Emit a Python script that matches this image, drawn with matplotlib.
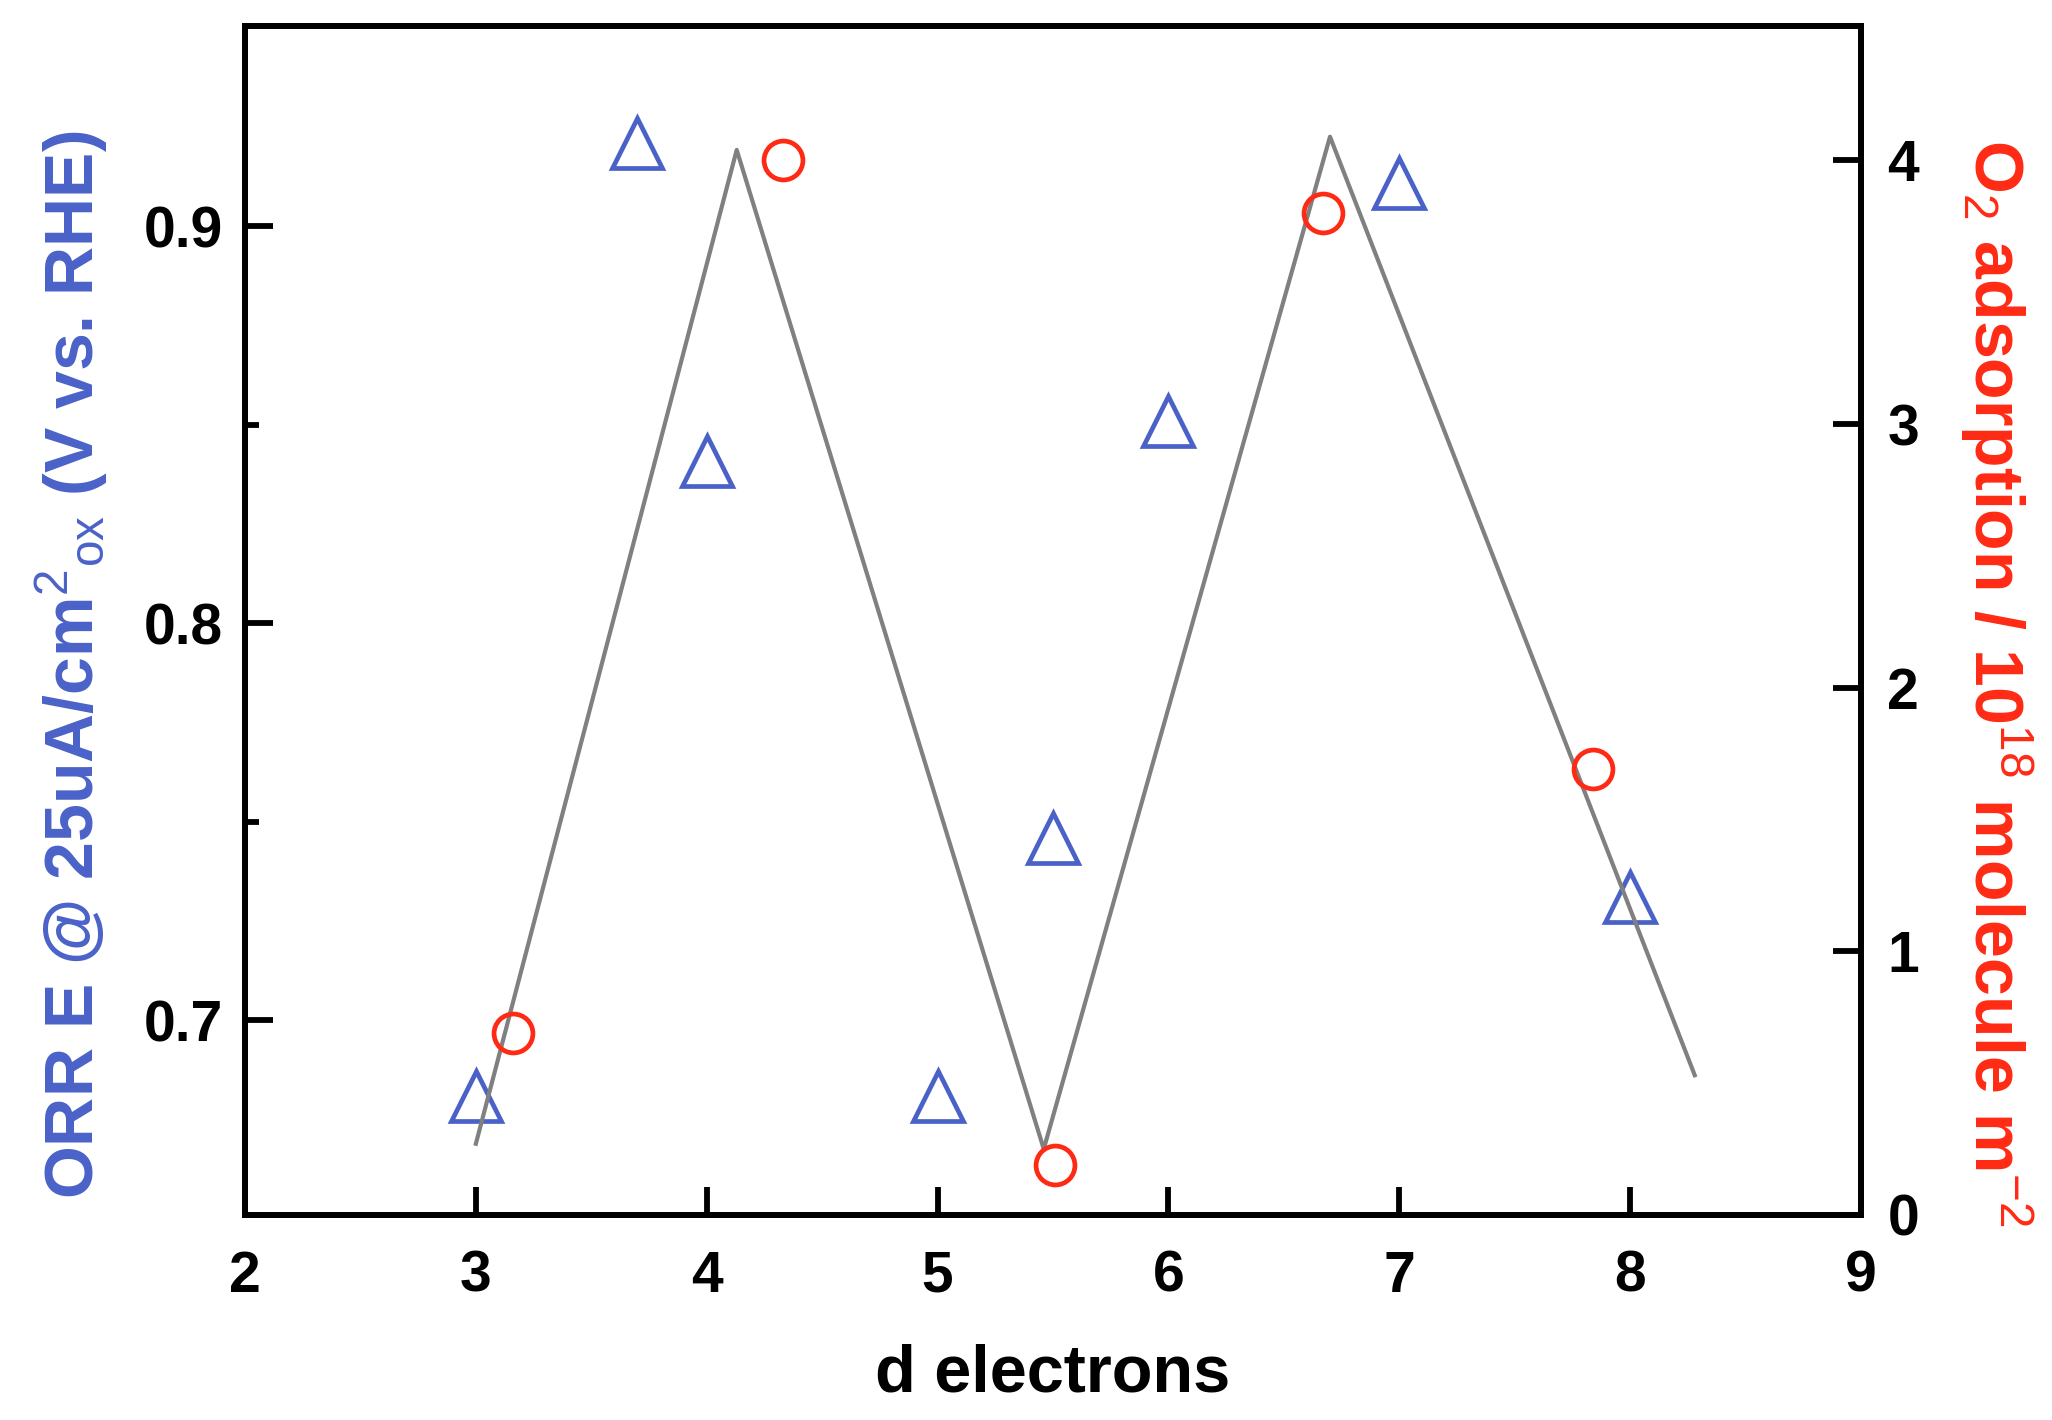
import matplotlib
matplotlib.use("Agg")
import matplotlib.pyplot as plt

# values
tri_x = [3, 3.7, 4, 5, 5.5, 6, 7, 8]
tri_y = [0.681, 0.921, 0.841, 0.681, 0.746, 0.851, 0.911, 0.731]   # ORR E (left axis)

circ_x = [3.16, 4.33, 5.51, 6.67, 7.84]
circ_y = [0.69, 4.0, 0.19, 3.80, 1.69]   # O2 adsorption (right axis)

line_x = [3.0, 4.13, 5.46, 6.70, 8.28]
line_y = [0.27, 4.04, 0.25, 4.09, 0.53]

blue = '#4a62c8'
red = '#ff2a14'

plt.rcParams['font.family'] = ['Liberation Sans', 'DejaVu Sans']
plt.rcParams['mathtext.fontset'] = 'custom'
plt.rcParams['mathtext.rm'] = 'Liberation Sans'
plt.rcParams['mathtext.default'] = 'rm'

fig = plt.figure(figsize=(20.52, 14.2), dpi=100)
ax = fig.add_axes([0.1194, 0.1444, 0.7875, 0.8373])
ax2 = ax.twinx()

ax2.plot(line_x, line_y, color='#808080', lw=3, zorder=1)
ax.plot(tri_x, tri_y, ls='none', marker='^', ms=36, mfc='none', mec=blue, mew=3.4, zorder=3)
ax2.plot(circ_x, circ_y, ls='none', marker='o', ms=28, mfc='none', mec=red, mew=3.4, zorder=3)

ax.set_xlim(2, 9)
ax.set_ylim(0.651, 0.9505)
ax2.set_ylim(0, 4.51)

ax.set_xticks([2, 3, 4, 5, 6, 7, 8, 9])
ax.set_yticks([0.7, 0.8, 0.9])
ax.set_yticks([0.75, 0.85], minor=True)
ax2.set_yticks([0, 1, 2, 3, 4])
ax.set_yticklabels(['0.7', '0.8', '0.9'])

for a in (ax, ax2):
    for s in a.spines.values():
        s.set_linewidth(4.2)
ax.tick_params(axis='x', which='major', direction='in', length=20, width=4.2, pad=25, labelsize=41)
ax.tick_params(axis='y', which='major', direction='in', length=20, width=4.2, pad=16, labelsize=41)
ax.tick_params(axis='y', which='minor', direction='in', length=10, width=4.2)
ax.tick_params(top=False, right=False)
ax2.tick_params(axis='y', which='major', direction='in', length=20, width=4.2, pad=19, labelsize=41)
for lab in ax.get_xticklabels() + ax.get_yticklabels() + ax2.get_yticklabels():
    lab.set_fontweight('bold')

fig.text(0.513, 0.032, 'd electrons', ha='center', va='center', fontsize=48, weight='bold')
fig.text(0.035, 0.532, 'ORR E @ 25uA/cm$^{2}$$_{ox}$ (V vs. RHE)', rotation=90,
         ha='center', va='center', fontsize=49, weight='bold', color=blue)
fig.text(0.973, 0.519, 'O$_{2}$ adsorption / 10$^{18}$ molecule m$^{-2}$', rotation=270,
         ha='center', va='center', fontsize=49, weight='bold', color=red)

fig.savefig('out.png', dpi=100)
